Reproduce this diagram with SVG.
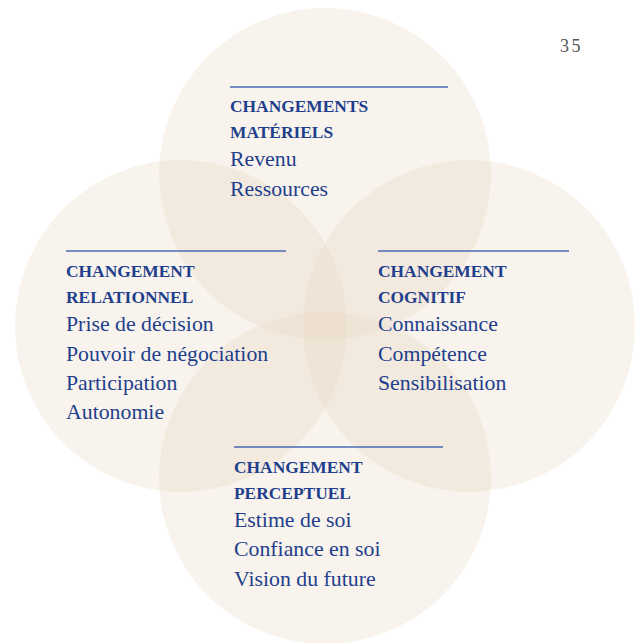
<svg xmlns="http://www.w3.org/2000/svg" width="643" height="643" viewBox="0 0 643 643">
  <style>
    .disc { fill: #e8d6c0; fill-opacity: 0.3; }
    .rule { stroke: #4a6cb0; stroke-width: 1.6; }
    .head { font-family: "Liberation Serif", serif; font-weight: bold; font-size: 17.4px; fill: #1f3f8c; }
    .item { font-family: "Liberation Serif", serif; font-size: 21.8px; fill: #1f3f8c; }
    .folio { font-family: "Liberation Serif", serif; font-size: 18px; fill: #555; letter-spacing: 2.5px; }
  </style>
  <rect width="643" height="643" fill="#ffffff"/>

  <!-- four overlapping discs -->
  <g id="discs">
    <circle class="disc" cx="325" cy="174" r="166"/>
    <circle class="disc" cx="181" cy="326" r="166"/>
    <circle class="disc" cx="469" cy="326" r="166"/>
    <circle class="disc" cx="325" cy="478" r="166"/>
  </g>

  <text class="folio" x="560" y="52">35</text>

  <g id="connectors"></g>

  <g id="materiels">
    <line class="rule" x1="230" y1="87" x2="448" y2="87"/>
    <text class="head" x="230" y="112">CHANGEMENTS</text>
    <text class="head" x="230" y="138">MATÉRIELS</text>
    <text class="item" x="230" y="166">Revenu</text>
    <text class="item" x="230" y="196">Ressources</text>
  </g>

  <g id="relationnel">
    <line class="rule" x1="66" y1="251" x2="286" y2="251"/>
    <text class="head" x="66" y="277">CHANGEMENT</text>
    <text class="head" x="66" y="303">RELATIONNEL</text>
    <text class="item" x="66" y="331">Prise de décision</text>
    <text class="item" x="66" y="361">Pouvoir de négociation</text>
    <text class="item" x="66" y="390">Participation</text>
    <text class="item" x="66" y="419">Autonomie</text>
  </g>

  <g id="cognitif">
    <line class="rule" x1="378" y1="251" x2="569" y2="251"/>
    <text class="head" x="378" y="277">CHANGEMENT</text>
    <text class="head" x="378" y="303">COGNITIF</text>
    <text class="item" x="378" y="331">Connaissance</text>
    <text class="item" x="378" y="361">Compétence</text>
    <text class="item" x="378" y="390">Sensibilisation</text>
  </g>

  <g id="perceptuel">
    <line class="rule" x1="234" y1="447" x2="443" y2="447"/>
    <text class="head" x="234" y="473">CHANGEMENT</text>
    <text class="head" x="234" y="499">PERCEPTUEL</text>
    <text class="item" x="234" y="527">Estime de soi</text>
    <text class="item" x="234" y="556">Confiance en soi</text>
    <text class="item" x="234" y="586">Vision du future</text>
  </g>
</svg>
